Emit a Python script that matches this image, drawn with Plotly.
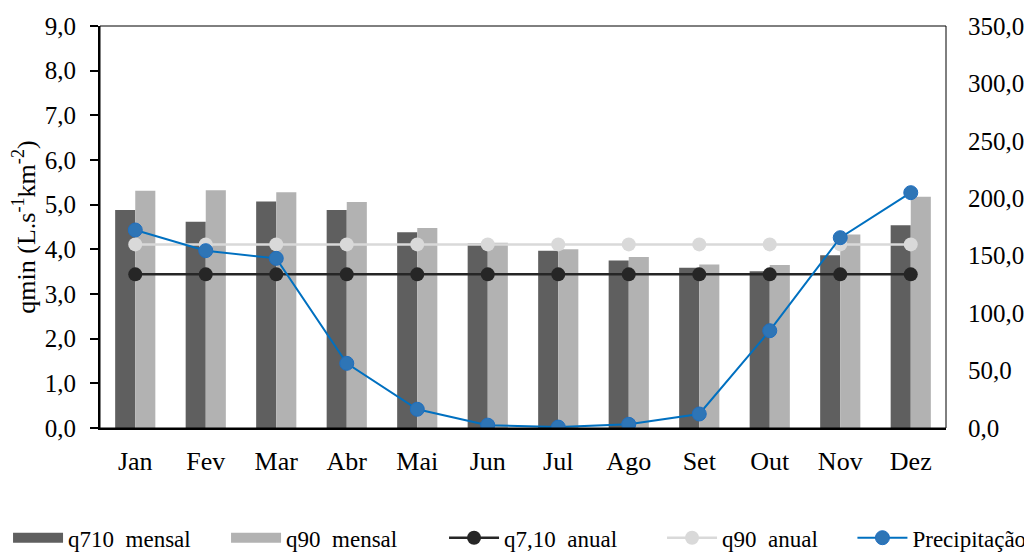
import plotly.graph_objects as go

months = ["Jan", "Fev", "Mar", "Abr", "Mai", "Jun", "Jul", "Ago", "Set", "Out", "Nov", "Dez"]
q710_mensal = [4.88, 4.62, 5.07, 4.88, 4.38, 4.13, 3.97, 3.75, 3.59, 3.51, 3.87, 4.54]
q90_mensal = [5.31, 5.32, 5.28, 5.06, 4.48, 4.15, 4.00, 3.83, 3.66, 3.65, 4.33, 5.18]
q710_anual = [3.44] * 12
q90_anual = [4.11] * 12
precipitacao = [172.4, 154.4, 147.7, 56.3, 16.3, 2.5, 0.8, 3.2, 12.2, 84.7, 165.7, 204.9]

FONT = "Liberation Serif"
C_Q710M = "#5f5f5f"
C_Q90M = "#b2b2b2"
C_Q710A = "#262626"
C_Q90A = "#d9d9d9"

fig = go.Figure()
fig.add_trace(go.Bar(x=months, y=q710_mensal, name="q710  mensal", marker_color=C_Q710M,
                     marker_line_width=0, showlegend=False))
fig.add_trace(go.Bar(x=months, y=q90_mensal, name="q90  mensal", marker_color=C_Q90M,
                     marker_line_width=0, showlegend=False))
# legend-only entries drawn as wide swatches like the original
fig.add_trace(go.Scatter(x=[None], y=[None], name="q710  mensal", mode="lines",
                         line=dict(color=C_Q710M, width=13), legend="legend"))
fig.add_trace(go.Scatter(x=[None], y=[None], name="q90  mensal", mode="lines",
                         line=dict(color=C_Q90M, width=13), legend="legend"))
fig.add_trace(go.Scatter(x=months, y=q710_anual, name="q7,10  anual", mode="lines+markers",
                         line=dict(color=C_Q710A, width=2.5), marker=dict(color=C_Q710A, size=14)))
fig.add_trace(go.Scatter(x=months, y=q90_anual, name="q90  anual", mode="lines+markers",
                         line=dict(color=C_Q90A, width=2.5), marker=dict(color=C_Q90A, size=14)))
fig.add_trace(go.Scatter(x=months, y=precipitacao, name="Precipitação", mode="lines+markers", yaxis="y2",
                         legend="legend2",
                         line=dict(color="#0070c0", width=2), marker=dict(color="#2e75b6", size=14,
                         line=dict(color="#1f6fc0", width=1))))

legend_common = dict(orientation="h", yanchor="middle", y=-0.273, xanchor="left",
                     font=dict(size=23, family=FONT), itemwidth=50, tracegroupgap=0,
                     bgcolor="rgba(0,0,0,0)")

fig.update_layout(
    width=1024, height=544,
    margin=dict(l=92, r=86, t=18, b=124, pad=0, autoexpand=False),
    paper_bgcolor="white", plot_bgcolor="white",
    font=dict(family=FONT, size=25, color="black"),
    separators=",.",
    barmode="group", bargap=0.43, bargroupgap=0,
    xaxis=dict(range=[-0.5, 11.5], showline=True, linecolor="black", linewidth=2, ticks="",
               ticklabelstandoff=9, tickfont=dict(size=26), showgrid=False, zeroline=False,
               automargin=False),
    yaxis=dict(range=[0, 9], dtick=1, tickformat=".1f", showline=True, linecolor="black", linewidth=2,
               ticks="outside", ticklen=8, tickcolor="black", tickwidth=1.5, showgrid=False, zeroline=False,
               ticklabelstandoff=9, automargin=False,
               title=dict(text="qmin (L.s<sup>-1</sup>km<sup>-2</sup>)", font=dict(size=26), standoff=6)),
    yaxis2=dict(range=[0, 350], dtick=50, tickformat=".1f", overlaying="y", side="right", showline=False,
                ticks="", showgrid=False, zeroline=False, ticklabelstandoff=21, automargin=False),
    legend=dict(legend_common, x=-0.1087, entrywidth=153),
    legend2=dict(legend_common, x=0.8894),
    shapes=[dict(type="rect", xref="paper", yref="paper", x0=0, x1=1, y0=0, y1=1,
                 line=dict(color="black", width=1), layer="above")],
)

fig.write_html("out.html")
